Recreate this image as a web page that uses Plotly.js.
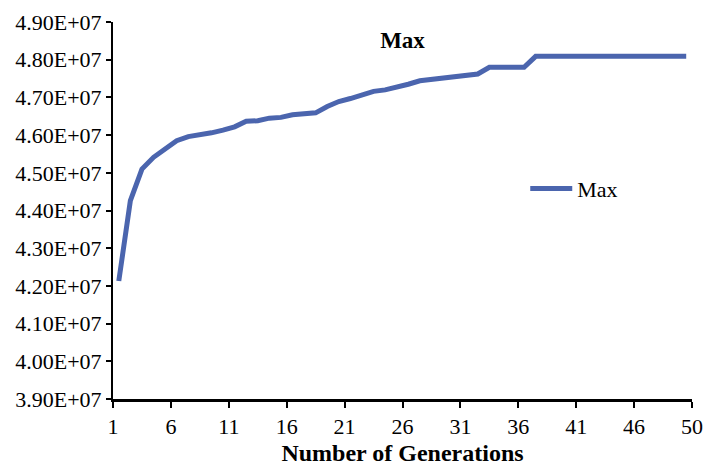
<!DOCTYPE html>
<html>
<head>
<meta charset="utf-8">
<script src="https://cdn.plot.ly/plotly-3.0.1.min.js"></script>
<style>html,body{margin:0;padding:0;background:#fff}#chart{width:705px;height:466px}</style>
</head>
<body>
<div id="chart"></div>
<script>
const generations = [1,2,3,4,5,6,7,8,9,10,11,12,13,14,15,16,17,18,19,20,21,22,23,24,25,26,27,28,29,30,31,32,33,34,35,36,37,38,39,40,41,42,43,44,45,46,47,48,49,50];
const maxValues = [
  4.213e7,4.426e7,4.510e7,4.541e7,4.563e7,4.585e7,4.596e7,4.600e7,4.606e7,4.613e7,
  4.622e7,4.637e7,4.638e7,4.645e7,4.647e7,4.654e7,4.658e7,4.659e7,4.676e7,4.689e7,
  4.697e7,4.705e7,4.716e7,4.720e7,4.726e7,4.735e7,4.744e7,4.748e7,4.750e7,4.755e7,
  4.758e7,4.762e7,4.780e7,4.780e7,4.780e7,4.780e7,4.809e7,4.809e7,4.809e7,4.809e7,
  4.809e7,4.809e7,4.809e7,4.809e7,4.809e7,4.809e7,4.809e7,4.809e7,4.809e7,4.809e7
];
const xTickVals = [0.5,5.5,10.5,15.5,20.5,25.5,30.5,35.5,40.5,45.5,50.5];
const xTickText = ['1','6','11','16','21','26','31','36','41','46','50'];
const yTickVals = [3.9e7,4.0e7,4.1e7,4.2e7,4.3e7,4.4e7,4.5e7,4.6e7,4.7e7,4.8e7,4.9e7];
const yTickText = ['3.90E+07','4.00E+07','4.10E+07','4.20E+07','4.30E+07','4.40E+07','4.50E+07','4.60E+07','4.70E+07','4.80E+07','4.90E+07'];

const serif = "'Liberation Serif'";
const trace = {
  x: generations, y: maxValues, type: 'scatter', mode: 'lines', name: 'Max',
  line: {color: '#4b65ae', width: 5}
};
const layout = {
  width: 705, height: 466,
  margin: {l: 113, r: 13, t: 22, b: 67},
  paper_bgcolor: '#fff', plot_bgcolor: '#fff',
  font: {family: serif, color: '#000', size: 22},
  title: {text: '<b>Max</b>', x: 0.5, xref: 'paper', xanchor: 'center', y: 0.915, yanchor: 'middle', font: {family: serif, size: 23, color: '#000'}},
  showlegend: true,
  legend: {x: 0.712, y: 0.558, xanchor: 'left', yanchor: 'middle', font: {family: serif, size: 22, color: '#000'}, bgcolor: 'rgba(0,0,0,0)', itemwidth: 42},
  xaxis: {
    range: [0.5, 50.5], tickmode: 'array', tickvals: xTickVals, ticktext: xTickText,
    showgrid: false, zeroline: false, showline: true, linecolor: '#000', linewidth: 3,
    ticks: 'outside', ticklen: 6, tickwidth: 2, tickcolor: '#000',
    tickfont: {family: serif, size: 22, color: '#000'},
    title: {text: '<b>Number of Generations</b>', font: {family: serif, size: 24, color: '#000'}, standoff: 12}
  },
  yaxis: {
    range: [3.9e7, 4.9e7], tickmode: 'array', tickvals: yTickVals, ticktext: yTickText,
    showgrid: false, zeroline: false, showline: true, linecolor: '#000', linewidth: 2,
    ticks: 'outside', ticklen: 5, tickwidth: 2, tickcolor: '#000',
    tickfont: {family: serif, size: 22, color: '#000'}
  }
};
Plotly.newPlot('chart', [trace], layout, {displayModeBar: false, staticPlot: true});
</script>
</body>
</html>
